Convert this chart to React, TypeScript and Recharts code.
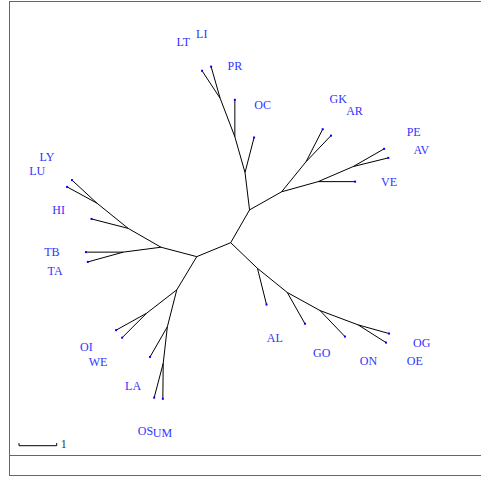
import React from 'react'
import { ScatterChart, Scatter, XAxis, YAxis, ReferenceLine } from 'recharts'

// Tree layout in branch-length units (1 unit = scale bar), origin at the central node
const nodeIds = [
  'A', 'B', 'C', 'D', 'E', 'F', 'G', 'H', 'I', 'J', 'K', 'L', 'M', 'N', 'O', 'P', 'Q', 'R', 'S', 'T', 'U', 'V',
  'LT', 'LI', 'PR', 'OC', 'GK', 'AR', 'PE', 'AV', 'VE', 'AL', 'GO', 'ON', 'OG', 'OE',
  'TB', 'TA', 'HI', 'LY', 'LU', 'OI', 'WE', 'LA', 'OS', 'UM',
]
const nodeX = [
  0, 0.5, -0.9, 0.38, 1.35, 0.11, -0.28, 2.0, 2.32, 3.25, 0.71, 1.5, 2.37, 3.38, -1.85, -2.72, -2.85, -3.55, -1.43, -2.23, -1.68, -1.79,
  -0.76, -0.52, 0.11, 0.62, 2.44, 2.66, 4.07, 4.18, 3.3, 0.95, 1.97, 3.03, 4.2, 4.12,
  -3.84, -3.79, -3.69, -4.21, -4.34, -3.04, -2.88, -2.14, -2.03, -1.8,
]
const nodeY = [
  0, 0.87, -0.37, 1.86, 1.35, 2.81, 3.83, 2.15, 1.62, 2.02, -0.68, -1.32, -1.8, -2.18, -0.12, 0.38, -0.25, 1.05, -1.25, -1.87, -2.23, -3.2,
  4.56, 4.67, 3.79, 2.79, 3.01, 2.84, 2.49, 2.25, 1.62, -1.64, -2.15, -2.49, -2.41, -2.65,
  -0.25, -0.51, 0.63, 1.66, 1.48, -2.32, -2.52, -3.03, -4.11, -4.14,
]
const edges: [string, string][] = [
  ['A', 'B'], ['A', 'C'], ['B', 'D'], ['B', 'E'], ['D', 'OC'], ['D', 'F'], ['F', 'PR'], ['F', 'G'],
  ['G', 'LT'], ['G', 'LI'], ['E', 'H'], ['E', 'I'], ['H', 'GK'], ['H', 'AR'], ['I', 'VE'], ['I', 'J'],
  ['J', 'PE'], ['J', 'AV'], ['A', 'K'], ['K', 'AL'], ['K', 'L'], ['L', 'GO'], ['L', 'M'], ['M', 'ON'],
  ['M', 'N'], ['N', 'OG'], ['N', 'OE'], ['C', 'O'], ['O', 'P'], ['O', 'Q'], ['Q', 'TB'], ['Q', 'TA'],
  ['P', 'HI'], ['P', 'R'], ['R', 'LY'], ['R', 'LU'], ['C', 'S'], ['S', 'T'], ['T', 'OI'], ['T', 'WE'],
  ['S', 'U'], ['U', 'LA'], ['U', 'V'], ['V', 'OS'], ['V', 'UM'],
]
const leafNames = [
  'LT', 'LI', 'PR', 'OC', 'GK', 'AR', 'PE', 'AV', 'VE', 'AL', 'GO', 'ON', 'OG', 'OE',
  'TB', 'TA', 'HI', 'LY', 'LU', 'OI', 'WE', 'LA', 'OS', 'UM',
]
const scaleBarStart = { x: -5.615, y: -5.385 }
const scaleBarLength = 1

const PX_PER_UNIT = 37.7
const X_DOMAIN: [number, number] = [-230.7 / PX_PER_UNIT, (481 - 230.7) / PX_PER_UNIT]
const Y_DOMAIN: [number, number] = [(242.7 - 477) / PX_PER_UNIT, 242.7 / PX_PER_UNIT]
const LABEL_OFFSET = 34
const TEXT_FONT = '"Liberation Serif", "DejaVu Serif", serif'

const LeafShape = (props: any) => {
  const { cx, cy, payload } = props
  return (
    <g>
      <rect x={cx - 1} y={cy - 1} width={2} height={2} fill="#0000ff" />
      <text
        x={cx + LABEL_OFFSET * payload.ux}
        y={cy - LABEL_OFFSET * payload.uy + 4}
        textAnchor="middle"
        fontFamily={TEXT_FONT}
        fontSize={12}
        fill="#3333ff"
      >
        {payload.name}
      </text>
    </g>
  )
}

const ScaleLabel = (props: any) => (
  <text x={props.cx + 4} y={props.cy + 2.5} fontFamily={TEXT_FONT} fontSize={12} fill="#333">
    1
  </text>
)

export default function App() {
  const pos: Record<string, { x: number; y: number }> = {}
  nodeIds.forEach((id, i) => {
    pos[id] = { x: nodeX[i], y: nodeY[i] }
  })

  const leaves = leafNames.map((name) => {
    const parent = edges.find((e) => e[1] === name)![0]
    const p = pos[parent]
    const c = pos[name]
    const dx = c.x - p.x
    const dy = c.y - p.y
    const len = Math.hypot(dx, dy)
    return { name, x: c.x, y: c.y, ux: dx / len, uy: dy / len }
  })

  const barEnd = { x: scaleBarStart.x + scaleBarLength, y: scaleBarStart.y }
  const tick = 0.07

  return (
    <div style={{ position: 'absolute', left: 0, top: 0, width: 481, height: 477, overflow: 'hidden', background: '#fff' }}>
      <div
        style={{
          position: 'absolute',
          left: 9,
          top: 1,
          width: 490,
          height: 473,
          border: '1px solid #666',
        }}
      />
      <div style={{ position: 'absolute', left: 9, top: 455, width: 480, height: 1, background: '#666' }} />
      <div style={{ position: 'absolute', left: 0, top: 0 }}>
        <ScatterChart width={481} height={477} margin={{ top: 0, right: 0, bottom: 0, left: 0 }}>
          <XAxis type="number" dataKey="x" domain={X_DOMAIN} hide allowDataOverflow />
          <YAxis type="number" dataKey="y" domain={Y_DOMAIN} hide allowDataOverflow />
          {edges.map(([a, b]) => (
            <ReferenceLine
              key={`${a}-${b}`}
              segment={[pos[a], pos[b]]}
              stroke="#000"
              strokeWidth={1}
              ifOverflow="visible"
            />
          ))}
          <ReferenceLine segment={[scaleBarStart, barEnd]} stroke="#000" strokeWidth={1} ifOverflow="visible" />
          <ReferenceLine
            segment={[scaleBarStart, { x: scaleBarStart.x, y: scaleBarStart.y + tick }]}
            stroke="#000"
            strokeWidth={1}
            ifOverflow="visible"
          />
          <ReferenceLine
            segment={[barEnd, { x: barEnd.x, y: barEnd.y + tick }]}
            stroke="#000"
            strokeWidth={1}
            ifOverflow="visible"
          />
          <Scatter data={leaves} shape={LeafShape} isAnimationActive={false} />
          <Scatter data={[barEnd]} shape={ScaleLabel} isAnimationActive={false} />
        </ScatterChart>
      </div>
    </div>
  )
}
